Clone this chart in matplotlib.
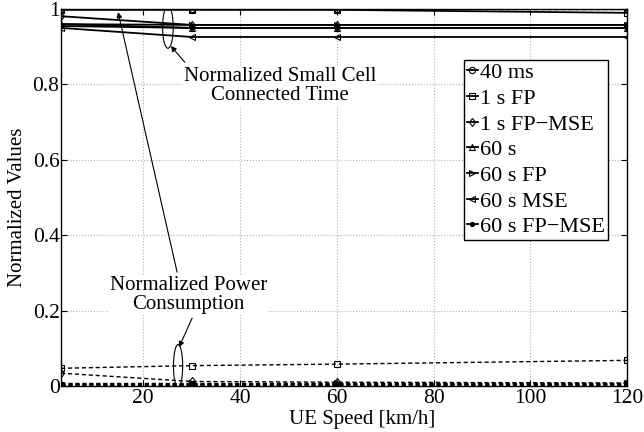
import matplotlib
matplotlib.use("Agg")
import matplotlib.pyplot as plt
from matplotlib.patches import Ellipse

plt.rcParams['font.family'] = ['Liberation Serif', 'DejaVu Serif']

# UE speed [km/h]
speeds = [3, 30, 60, 120]

labels = ["40 ms", "1 s FP", "1 s FP\u2212MSE", "60 s", "60 s FP", "60 s MSE", "60 s FP\u2212MSE"]
markers = ["o", "s", "d", "^", ">", "<", "."]

# normalized small cell connected time
conn_time = [
    [1.000, 1.000, 1.000, 1.000],
    [0.998, 0.998, 0.998, 0.990],
    [0.981, 0.958, 0.958, 0.958],
    [0.960, 0.950, 0.950, 0.950],
    [0.960, 0.958, 0.958, 0.958],
    [0.950, 0.926, 0.926, 0.926],
    [0.955, 0.950, 0.950, 0.950],
]

# normalized power consumption
power = [
    [1.000, 1.000, 1.000, 1.000],
    [0.047, 0.054, 0.058, 0.068],
    [0.034, 0.012, 0.010, 0.008],
    [0.005, 0.005, 0.005, 0.005],
    [0.008, 0.008, 0.008, 0.008],
    [0.003, 0.003, 0.003, 0.003],
    [0.004, 0.004, 0.004, 0.004],
]

fig = plt.figure(figsize=(6.44, 4.32), dpi=100)
ax = fig.add_axes([0.0947, 0.1065, 0.879, 0.8725])

for lab, mk, ct, pc in zip(labels, markers, conn_time, power):
    ms = 6 if mk == "." else 4.5
    style = dict(color="k", marker=mk, ms=ms, mfc="k" if mk == "." else "none",
                 mec="k", mew=0.8)
    ax.plot(speeds, ct, lw=1.3, label=lab, **style)
    ax.plot(speeds, pc, lw=1.0, ls=(0, (3, 2)), **style)

ax.set_xlim(3, 120)
ax.set_ylim(0, 1)
ax.set_xticks([20, 40, 60, 80, 100, 120])
ax.set_yticks([0, 0.2, 0.4, 0.6, 0.8, 1])
ax.set_yticklabels(["0", "0.2", "0.4", "0.6", "0.8", "1"])
ax.tick_params(direction="in", top=True, right=True, labelsize=15.5, length=4)
ax.tick_params(axis="x", pad=2.5)
ax.tick_params(axis="y", pad=1)
ax.grid(True, color="#b0b0b0", ls=":", lw=0.8)
for s in ax.spines.values():
    s.set_linewidth(1.0)

ax.set_xlabel("UE Speed [km/h]", fontsize=15)
ax.set_ylabel("Normalized Values", fontsize=15)
ax.xaxis.set_label_coords(0.532, -0.064)
ax.yaxis.set_label_coords(-0.06, 0.475)

# grouping ellipses and annotations
ax.add_patch(Ellipse((25.1, 0.952), 2.2, 0.112, fill=False, ec="k", lw=0.8))
ax.add_patch(Ellipse((27.2, 0.053), 1.9, 0.114, fill=False, ec="k", lw=0.8))

arrow = dict(arrowstyle="-|>", color="k", lw=0.8, mutation_scale=8, shrinkA=0, shrinkB=0)
ax.annotate("", xy=(25.7, 0.902), xytext=(28.6, 0.859), arrowprops=arrow)
ax.annotate("", xy=(14.8, 0.992), xytext=(27.0, 0.302), arrowprops=arrow)
ax.annotate("", xy=(27.4, 0.103), xytext=(30.1, 0.180), arrowprops=arrow)

ax.text(48.3, 0.796, "Normalized Small Cell\nConnected Time", fontsize=15,
        ha="center", va="center", linespacing=1.0,
        bbox=dict(fc="white", ec="none", pad=0.5))
ax.text(29.3, 0.241, "Normalized Power\nConsumption", fontsize=15,
        ha="center", va="center", linespacing=1.0,
        bbox=dict(fc="white", ec="none", pad=0.5))

leg = ax.legend(loc="upper right", bbox_to_anchor=(0.966, 0.865), fontsize=16,
                numpoints=1, handlelength=0.5, handletextpad=0.1, labelspacing=0.23,
                borderpad=0.12, borderaxespad=0, fancybox=False, framealpha=1,
                edgecolor="k")
leg.get_frame().set_linewidth(1.0)

fig.savefig("out.png", dpi=100)
